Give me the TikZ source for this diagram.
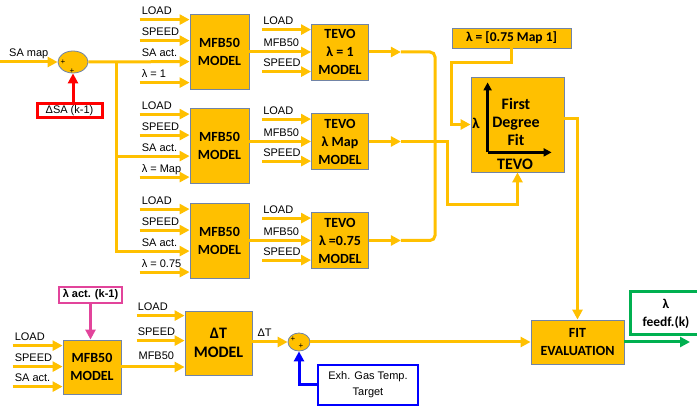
\documentclass[tikz,border=0pt]{standalone}
\usepackage{fontspec}
\setmainfont{Liberation Sans}
\newfontfamily\calfont{Carlito}
\usetikzlibrary{positioning,arrows.meta,calc,shapes.geometric}
\definecolor{blockgold}{HTML}{FFC000}
\definecolor{blockedge}{HTML}{7184A6}
\definecolor{errred}{HTML}{FF0000}
\definecolor{lampink}{HTML}{E2449B}
\definecolor{outgreen}{HTML}{00B050}
\definecolor{tgtblue}{HTML}{0000FF}

\begin{document}
\begin{tikzpicture}[x=1pt, y=-1pt,
    every node/.style={font=\fontsize{11}{13}\selectfont, inner sep=0pt},
    block/.style={
      draw=blockedge, fill=blockgold, line width=0.8pt, align=center,
      font=\calfont\bfseries\fontsize{14}{18}\selectfont
    },
    sumnode/.style={ellipse, draw=blockedge, fill=blockgold, line width=0.8pt},
    plus/.style={font=\fontsize{8}{8}\selectfont},
    flow/.style={-{Triangle[length=10pt,width=10pt]}, draw=blockgold, line width=3pt},
    flowline/.style={draw=blockgold, line width=3pt},
    axis/.style={-{Triangle[length=8pt,width=8pt]}, line width=2.5pt, black},
    lab/.style={anchor=base west},
    errbox/.style={draw=errred, line width=3pt, fill=white, minimum width=65, minimum height=14},
    pinkbox/.style={draw=lampink, line width=2pt, fill=white, minimum width=63, minimum height=16,
      font=\bfseries\fontsize{11}{13}\selectfont},
    tgtbox/.style={draw=tgtblue, line width=1.5pt, fill=white, minimum width=100, minimum height=40,
      align=center, font=\fontsize{11}{16}\selectfont},
    outbox/.style={draw=outgreen, line width=3pt, fill=white, minimum width=72, minimum height=43,
      align=center, font=\calfont\bfseries\fontsize{13.5}{18}\selectfont}
  ]
  \useasboundingbox (0,0) rectangle (697,406);

  % ---------- spark advance sum and the three MFB50 models ----------
  \node[sumnode, minimum width=30, minimum height=22] (sumSA) at (73,62) {};
  \node[plus] (sumSA-p1) at (63,62) {+};
  \node[plus] (sumSA-p2) at (72,71) {+};
  \node[errbox] (dSA) at (69.5,111) {ΔSA (k-1)};
  \coordinate (saIn) at (0,62);
  \node[lab] (saLab) at (9,57) {SA map};
  \draw[flow] (saIn) -- (sumSA.west);
  \draw[flow, draw=errred] (sumSA.south |- dSA.north) -- (sumSA.south);

  \node[block, minimum width=59, minimum height=75] (mfbA) at (219.5,51.5) {MFB50\\MODEL};
  \node[block, minimum width=59, minimum height=75] (mfbB) at (219.5,146) {MFB50\\MODEL};
  \node[block, minimum width=59, minimum height=75] (mfbC) at (219.5,241) {MFB50\\MODEL};

  \foreach \b/\lam in {A/1, B/Map, C/0.75}{
    \foreach \t/\dy [count=\i] in {LOAD/6, SPEED/27, λ = \lam/69}{
      \coordinate (mfb\b-p\i) at ($(mfb\b.north west)+(0,\dy)$);
      \coordinate (mfb\b-s\i) at ($(mfb\b-p\i)+(-50,0)$);
      \node[lab] (mfb\b-l\i) at ($(mfb\b-s\i)+(2,-5)$) {\t};
      \draw[flow] (mfb\b-s\i) -- (mfb\b-p\i);
    }
    \coordinate (mfb\b-sa) at ($(mfb\b.north west)+(0,48)$);
    \node[lab] (mfb\b-lsa) at ($(mfb\b-sa)+(-48,-5)$) {SA act.};
  }
  \coordinate (saBr) at (116,62);
  \draw[flow] (sumSA.east) -- (mfbA-sa);
  \draw[flow] (saBr) |- (mfbB-sa);
  \draw[flow] (saBr) |- (mfbC-sa);

  % ---------- TEVO models ----------
  \node[block, minimum width=57, minimum height=56] (tevoA) at (340,52) {TEVO\\λ = 1\\MODEL};
  \node[block, minimum width=57, minimum height=56] (tevoB) at (340,141.5) {TEVO\\λ Map\\MODEL};
  \node[block, minimum width=57, minimum height=56] (tevoC) at (340,240.5) {TEVO\\λ =0.75\\MODEL};

  \foreach \b in {A,B,C}{
    \foreach \t/\dy [count=\i] in {LOAD/6, SPEED/48}{
      \coordinate (tevo\b-p\i) at ($(tevo\b.north west)+(0,\dy)$);
      \coordinate (tevo\b-s\i) at ($(tevo\b-p\i)+(-49,0)$);
      \node[lab] (tevo\b-l\i) at ($(tevo\b-s\i)+(1,-5)$) {\t};
      \draw[flow] (tevo\b-s\i) -- (tevo\b-p\i);
    }
    \draw[flow] (mfb\b.east |- tevo\b.west) -- (tevo\b.west);
    \node[lab] (tevo\b-lm) at ($(mfb\b.east |- tevo\b.west)+(14,-5)$) {MFB50};
    \coordinate (out\b) at ($(tevo\b.east)+(32,0)$);
    \draw[flow] (tevo\b.east) -- (out\b);
  }

  % ---------- first degree fit ----------
  \node[block, minimum width=93, minimum height=95] (fit) at (517.5,124.5) {};
  \coordinate (axO) at ($(fit.south west)+(17,-20)$);
  \draw[axis] (axO) -- ++(0,-70);
  \draw[axis] (axO) -- ++(64,0);
  \node[align=center, font=\calfont\bfseries\fontsize{16}{18}\selectfont] (fitTxt) at (516,122) {First\\Degree\\Fit};
  \node[font=\calfont\bfseries\fontsize{15}{18}\selectfont] (fitLam) at (476,123) {λ};
  \node[font=\calfont\bfseries\fontsize{16}{18}\selectfont] (fitTevo) at (515,164) {TEVO};

  \node[block, minimum width=119, minimum height=20, font=\calfont\bfseries\fontsize{13.5}{16}\selectfont]
    (lamRange) at (511.5,38) {λ = [0.75 Map 1]};
  \coordinate (kneeL) at (451,63);
  \draw[flow] (lamRange.south) |- (kneeL) |- (fit.west);

  \coordinate (mergeX) at (435,0);
  \draw[flowline, rounded corners=5] (outA) -- (outA -| mergeX) -- (outC -| mergeX) -- (outC);
  \coordinate (kneeB) at (447,205);
  \draw[flow] (outB) -| (kneeB) -| (fit.south);

  % ---------- fit evaluation and output ----------
  \node[block, minimum width=93, minimum height=44] (fitEval) at (577.5,342) {FIT\\EVALUATION};
  \draw[flow] ([yshift=6pt]fit.east) -| (fitEval.north);
  \node[outbox] (lamOut) at (666,313.5) {λ\\feedf.(k)};
  \coordinate (outEnd) at (690,342);
  \draw[flow, draw=outgreen] (fitEval.east) -- (outEnd);

  % ---------- exhaust temperature branch ----------
  \node[block, minimum width=58, minimum height=54] (mfbD) at (92,367) {MFB50\\MODEL};
  \foreach \t/\dy [count=\i] in {LOAD/6, SPEED/27, SA act./47}{
    \coordinate (mfbD-p\i) at ($(mfbD.north west)+(0,\dy)$);
    \coordinate (mfbD-s\i) at ($(mfbD-p\i)+(-50,0)$);
    \node[lab] (mfbD-l\i) at ($(mfbD-s\i)+(2,-5)$) {\t};
    \draw[flow] (mfbD-s\i) -- (mfbD-p\i);
  }
  \node[pinkbox] (lamAct) at (90.5,295) {λ act. (k-1)};
  \draw[flow, draw=lampink] (lamAct.south) -- (lamAct.south |- mfbD.north);

  \node[block, minimum width=67, minimum height=64, font=\calfont\bfseries\fontsize{16}{19}\selectfont]
    (dtModel) at (218.5,343) {ΔT\\MODEL};
  \foreach \t/\dy [count=\i] in {LOAD/5, SPEED/30}{
    \coordinate (dt-p\i) at ($(dtModel.north west)+(0,\dy)$);
    \coordinate (dt-s\i) at ($(dt-p\i)+(-48,0)$);
    \node[lab] (dt-l\i) at ($(dt-s\i)+(1,-5)$) {\t};
    \draw[flow] (dt-s\i) -- (dt-p\i);
  }
  \draw[flow] (mfbD.east) -- (mfbD.east -| dtModel.west);
  \node[lab] (dt-lm) at ($(mfbD.east)+(17,-7)$) {MFB50};

  \node[sumnode, minimum width=22, minimum height=18] (sumT) at (299,342) {};
  \node[plus] (sumT-p1) at (293,339) {+};
  \node[plus] (sumT-p2) at (301,346) {+};
  \draw[flow] (dtModel.east |- sumT.west) -- (sumT.west);
  \node[lab] (dtLab) at ($(dtModel.east |- sumT.west)+(5,-5)$) {ΔT};
  \node[tgtbox] (tgt) at (368,385) {Exh. Gas Temp.\\Target};
  \draw[flow, draw=tgtblue] (tgt.west) -| (sumT.south);
  \draw[flow] (sumT.east) -- (sumT.east -| fitEval.west);

\end{tikzpicture}
\end{document}
